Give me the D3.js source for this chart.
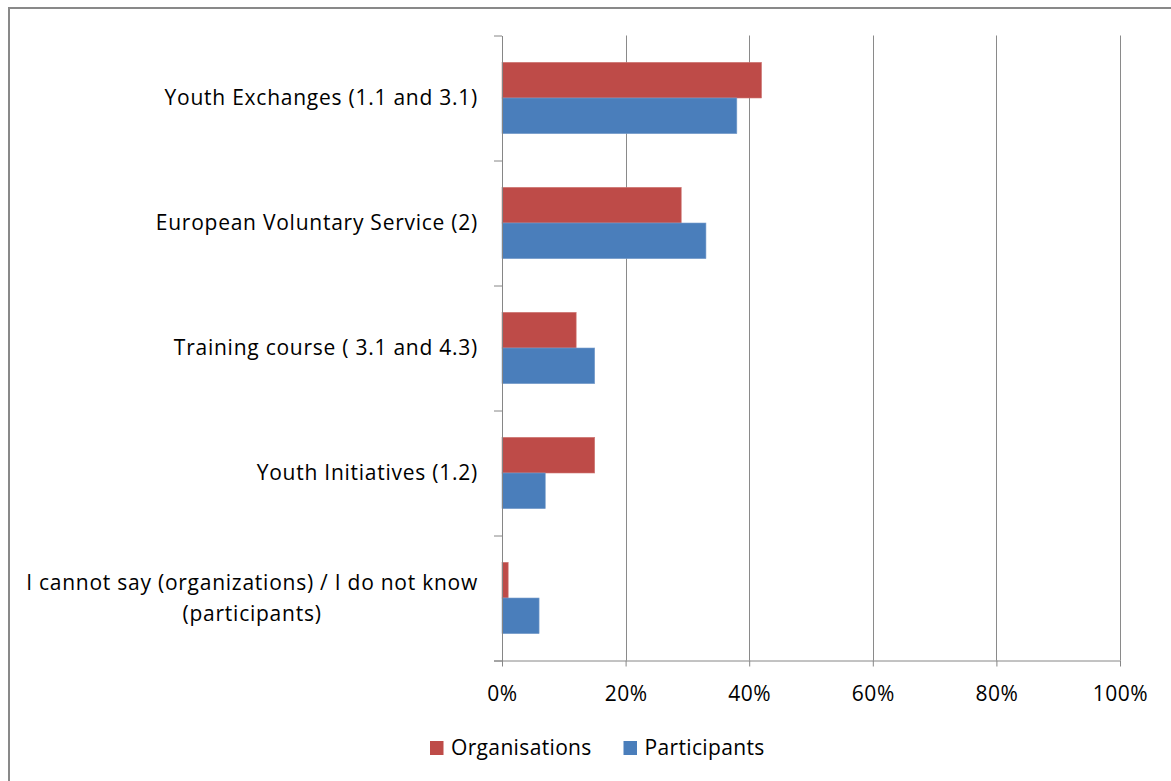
<!DOCTYPE html>
<html><head><meta charset="utf-8">
<script src="https://cdn.jsdelivr.net/npm/d3@7"></script>
<style>
html,body{margin:0;padding:0;background:#fff;}
svg{display:block;}
text{font-family:"Open Sans","Lato",sans-serif;fill:#000;}
</style></head>
<body>
<svg id="chart" width="1171" height="781"></svg>
<script>
const categories = [
  "Youth Exchanges (1.1 and 3.1)",
  "European Voluntary Service (2)",
  "Training course ( 3.1 and 4.3)",
  "Youth Initiatives (1.2)",
  "I cannot say (organizations) / I do not know|(participants)"
];
const seriesNames = ["Organisations", "Participants"];
const organisations = [0.42, 0.29, 0.12, 0.15, 0.01];
const participants  = [0.38, 0.33, 0.15, 0.07, 0.06];
const xTicks = [0, 0.2, 0.4, 0.6, 0.8, 1.0];
const colors = ["#BE4B48", "#4A7EBB"];

(function () {
const FS = 21;
const LS_CAT = 0.75, LS_LEG = 0.35, LS_TICK = 0.5;
const svg = d3.select("#chart");
const pLeft = 502, pRight = 1120, pTop = 35.5, pBottom = 660.5;

// outer border
svg.append("rect").attr("x", 9).attr("y", 8).attr("width", 1200).attr("height", 800)
  .attr("fill", "none").attr("stroke", "#898989").attr("stroke-width", 2);

const x = d3.scaleLinear().domain([0, 1]).range([pLeft, pRight]);
const y = d3.scaleBand().domain(categories).range([pTop, pBottom]).paddingInner(0).paddingOuter(0);
const bw = y.bandwidth();
const groupH = bw * 0.571;
const ys = d3.scaleBand().domain(seriesNames).range([(bw - groupH) / 2, (bw + groupH) / 2]);

// gridlines
svg.append("g").selectAll("line").data(xTicks.slice(1)).join("line")
  .attr("x1", d => Math.round(x(d)) + 0.5).attr("x2", d => Math.round(x(d)) + 0.5)
  .attr("y1", pTop).attr("y2", pBottom)
  .attr("stroke", "#8a8a8a").attr("stroke-width", 1);

// bars
const data = categories.map((c, i) => ({c, vals: [organisations[i], participants[i]]}));
const groups = svg.append("g").selectAll("g").data(data).join("g")
  .attr("transform", d => `translate(0,${y(d.c)})`);
groups.selectAll("rect").data(d => d.vals.map((v, j) => ({v, s: seriesNames[j], j}))).join("rect")
  .attr("x", x(0)).attr("y", d => ys(d.s))
  .attr("width", d => x(d.v) - x(0)).attr("height", ys.bandwidth())
  .attr("fill", d => colors[d.j])
  .attr("stroke", d => d.j === 0 ? "#cf7a77" : "#7a9fcc").attr("stroke-width", 0.6);

// x axis
const xAxis = d3.axisBottom(x).tickValues(xTicks).tickFormat(d3.format(".0%")).tickSize(6).tickSizeOuter(0);
const gx = svg.append("g").attr("transform", `translate(0,${pBottom})`).call(xAxis);
gx.select(".domain").attr("stroke", "#868686").attr("d", `M${pLeft - 8},0.5H${pRight}`);
gx.selectAll(".tick line").attr("stroke", "#868686");
gx.selectAll(".tick text").attr("font-size", FS).attr("dy", 0).attr("y", 40)
  .style("font-family", "'Open Sans', Lato, sans-serif").style("letter-spacing", LS_TICK + "px")
  .attr("fill", "#000");

// y axis line and category ticks
const yIdx = d3.scaleLinear().domain([0, categories.length]).range([pTop, pBottom]);
const yAxis = d3.axisLeft(yIdx).ticks(categories.length).tickFormat("").tickSize(8).tickSizeOuter(0);
const gy = svg.append("g").attr("transform", `translate(${pLeft},0)`).call(yAxis);
gy.select(".domain").attr("stroke", "#868686");
gy.selectAll(".tick line").attr("stroke", "#868686");

// category labels
const labelX = 478;
categories.forEach(c => {
  const lines = c.split("|");
  const cy = y(c) + bw / 2;
  if (lines.length === 1) {
    svg.append("text").attr("x", labelX).attr("y", cy).attr("dy", "0.35em")
      .style("letter-spacing", LS_CAT + "px")
      .attr("text-anchor", "end").attr("font-size", FS).text(lines[0]);
  } else {
    const t = svg.append("text").attr("font-size", FS).attr("text-anchor", "end")
      .style("letter-spacing", LS_CAT + "px")
      .attr("x", labelX).attr("y", cy - 15.5).attr("dy", "0.35em").text(lines[0]);
    const w = t.node().getComputedTextLength();
    const mid = labelX - w / 2;
    svg.append("text").attr("font-size", FS).attr("text-anchor", "middle")
      .style("letter-spacing", LS_CAT + "px")
      .attr("x", mid).attr("y", cy + 15.5).attr("dy", "0.35em").text(lines[1]);
  }
});

// legend
const legend = svg.append("g").attr("transform", "translate(0,748)");
const legendX = [430, 623.5];
seriesNames.forEach((s, i) => {
  legend.append("rect").attr("x", legendX[i]).attr("y", -7).attr("width", 13.5).attr("height", 14)
    .attr("fill", colors[i]);
  legend.append("text").attr("x", legendX[i] + 21).attr("y", 0).attr("dy", "0.35em")
    .style("letter-spacing", LS_LEG + "px")
    .attr("font-size", FS).text(s);
});
})();
</script>
</body></html>
